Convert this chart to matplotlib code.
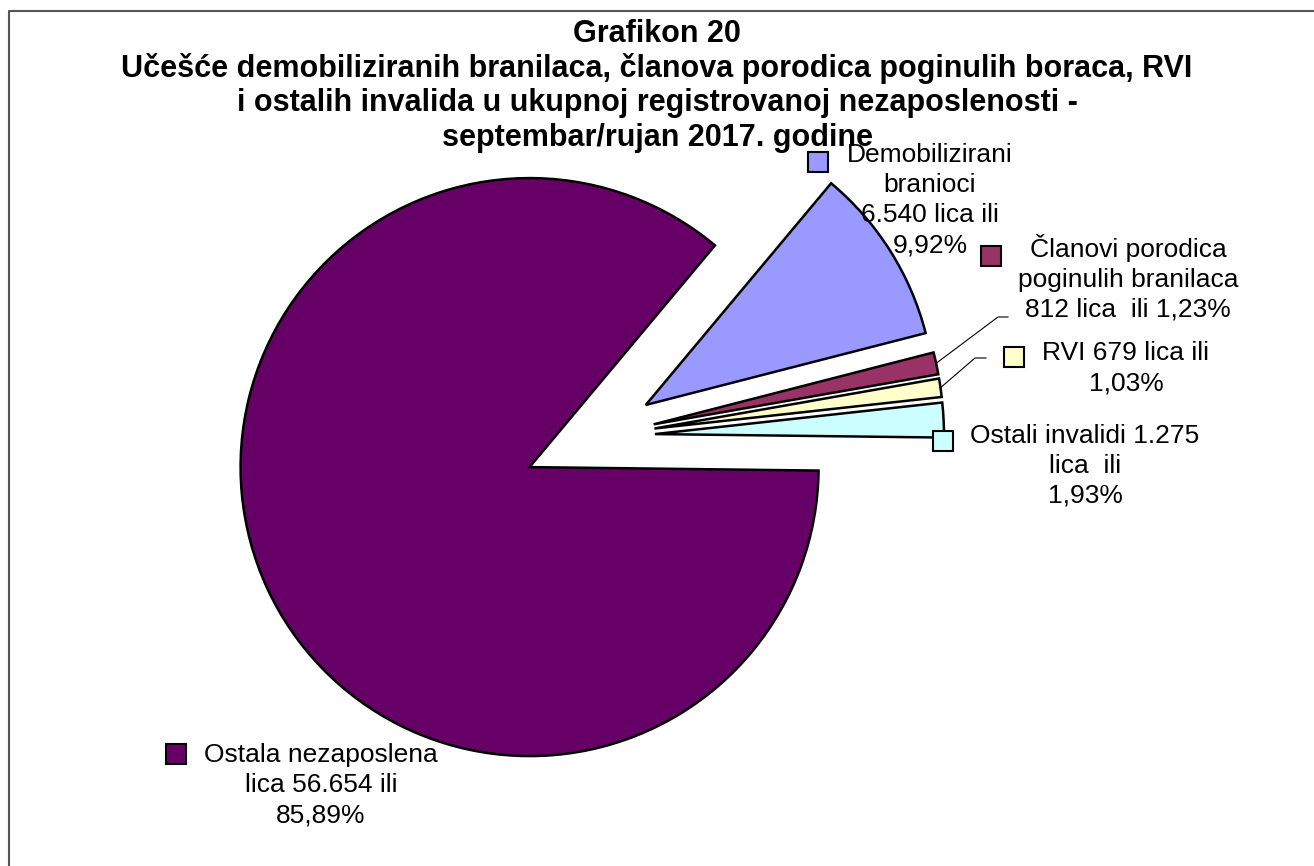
import math
import matplotlib
matplotlib.use("Agg")
from matplotlib import pyplot as plt
from matplotlib.patches import Rectangle

# --- Podaci ---
kategorije = ["Demobilizirani branioci", "Članovi porodica poginulih branilaca",
              "RVI", "Ostali invalidi", "Ostala nezaposlena lica"]
lica = [6540, 812, 679, 1275, 56654]
boje = ["#9999FF", "#993366", "#FFFFCC", "#CCFFFF", "#660066"]
oznake = [
    ["Demobilizirani", "branioci", "6.540 lica ili", "9,92%"],
    ["Članovi porodica", "poginulih branilaca", "812 lica  ili 1,23%"],
    ["RVI 679 lica ili", "1,03%"],
    ["Ostali invalidi 1.275", "lica  ili", "1,93%"],
    ["Ostala nezaposlena", "lica 56.654 ili", "85,89%"],
]
naslov = [
    "Grafikon 20",
    "Učešće demobiliziranih branilaca, članova porodica poginulih boraca, RVI",
    "i ostalih invalida u ukupnoj registrovanoj nezaposlenosti -",
    "septembar/rujan 2017. godine",
]

# --- Raspored (pikseli, ishodiste gore lijevo) ---
W, H = 1314, 866
py = lambda y: H - y
R = 289
centar = (595, 437)
razmak = [60, 60, 60, 60, 72]
# (x centra teksta, prva bazna linija) i gornji lijevi ugao kvadratica
pozicije = [(930, 162), (1128, 257), (1126, 360), (1085, 443), (321, 762)]
kvadrati = [(808, 152), (981, 246), (1004, 347), (933, 431), (166, 744)]
vodice = {1: [(998, 317), (1008, 317)], 2: [(975, 358), (986, 358)]}
korak = 30
plt.rcParams["font.family"] = ["Liberation Sans", "DejaVu Sans"]

fig = plt.figure(figsize=(W / 100, H / 100), dpi=100)
ax = fig.add_axes([0, 0, 1, 1])

wedges, _ = ax.pie(lica, colors=boje, radius=R, center=(centar[0], py(centar[1])),
                   startangle=50.1, counterclock=False, explode=razmak,
                   wedgeprops=dict(edgecolor="black", linewidth=1.8))
ax.set_xlim(0, W)
ax.set_ylim(0, H)
ax.set_aspect("equal")
ax.axis("off")

# Oznake s kvadraticima
for i, linije in enumerate(oznake):
    x, y = pozicije[i]
    for k, t in enumerate(linije):
        ax.text(x, py(y + k * korak), t, ha="center", va="baseline", fontsize=19)
    kx, ky = kvadrati[i]
    ax.add_patch(Rectangle((kx, py(ky + 20)), 20, 20, facecolor=boje[i],
                           edgecolor="black", linewidth=1.5, zorder=5))

# Vodice za male isjecke
for i, tacke in vodice.items():
    w = wedges[i]
    tm = math.radians((w.theta1 + w.theta2) / 2)
    x0 = w.center[0] + w.r * math.cos(tm)
    y0 = w.center[1] + w.r * math.sin(tm)
    ax.plot([x0] + [p[0] for p in tacke], [y0] + [py(p[1]) for p in tacke],
            c="black", linewidth=0.8)

# Naslov
for k, t in enumerate(naslov):
    ax.text(657, py(146 - (len(naslov) - 1 - k) * 34.7), t, ha="center", va="baseline",
            fontsize=22, fontweight="bold")

# Okvir
ax.plot([9, 9, W + 5], [py(H + 5), py(11), py(11)], c="#555555", linewidth=1.5,
        clip_on=False)

fig.savefig("out.png", dpi=100)
